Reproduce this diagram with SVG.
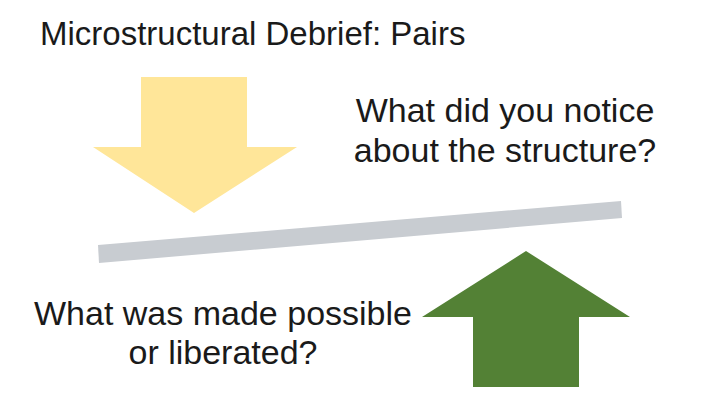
<svg xmlns="http://www.w3.org/2000/svg" width="720" height="405" viewBox="0 0 720 405">
<style>
text{font-family:"Liberation Sans",Arial,sans-serif;fill:#1a1a1a}
.title{font-size:33px}
.q{font-size:34px;text-anchor:middle}
</style>
<rect width="720" height="405" fill="#ffffff"/>
<text class="title" x="40" y="45">Microstructural Debrief: Pairs</text>
<g id="down-arrow">
<polygon points="141,77 247,77 247,147 297,147 194,213 93,147 141,147" fill="#FFE699"/>
</g>
<g id="beam">
<polygon points="98,245 621,201 622,218 99,263" fill="#C8CCD1"/>
</g>
<g id="up-arrow">
<polygon points="526,251 630,317 579,317 579,387 473,387 473,317 422,317" fill="#538135"/>
</g>
<g id="question-structure">
<text class="q" x="505" y="122">What did you notice</text>
<text class="q" x="505" y="162">about the structure?</text>
</g>
<g id="question-liberated">
<text class="q" x="223" y="325">What was made possible</text>
<text class="q" x="223" y="364">or liberated?</text>
</g>
<g id="connectors"></g>
</svg>
